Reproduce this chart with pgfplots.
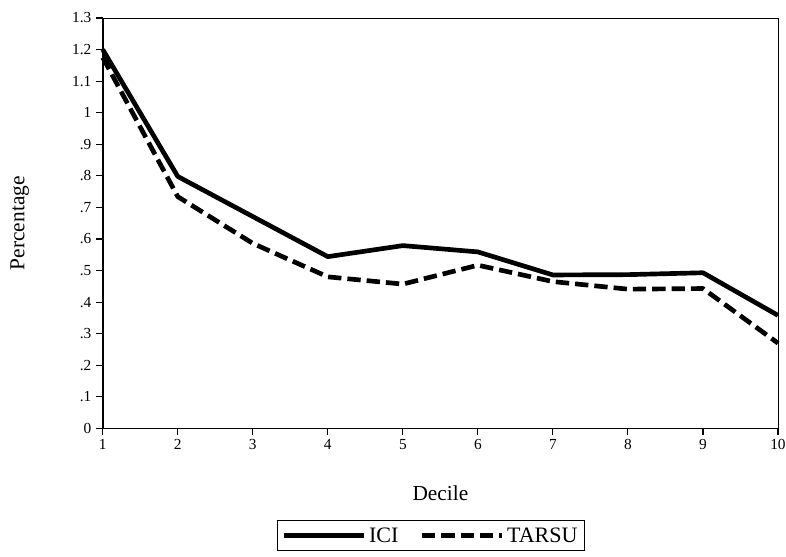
\documentclass[border=0pt]{standalone}
\usepackage{fontspec}
\setmainfont{Liberation Serif}
\usepackage{pgfplots}
\pgfplotsset{compat=1.18}
\usetikzlibrary{calc}

\begin{document}
\begin{tikzpicture}
\begin{axis}[
  name=ax,
  scale only axis,
  width=506pt, height=307.5pt,
  xmin=1, xmax=10, ymin=0, ymax=1.3,
  xtick={1,2,...,10},
  xticklabels={1,2,3,4,5,6,7,8,9,10},
  ytick={0,0.1,0.2,0.3,0.4,0.5,0.6,0.7,0.8,0.9,1,1.1,1.2,1.3},
  yticklabels={0,.1,.2,.3,.4,.5,.6,.7,.8,.9,1,1.1,1.2,1.3},
  /pgf/number format/assume math mode=true,
  tick pos=left, tick align=outside,
  major tick length=5pt,
  tick style={black, line width=0.8pt},
  axis line style={line width=0.7pt},
  ticklabel style={font=\fontsize{11.5}{13}\selectfont},
  xlabel={Decile}, ylabel={Percentage},
  label style={font=\fontsize{16}{18}\selectfont},
  xlabel style={at={(axis description cs:0.5,-0.159)}, anchor=center},
  ylabel style={at={(axis description cs:-0.123,0.5)}, anchor=center},
  legend columns=2,
  legend style={at={(axis description cs:0.486,-0.224)}, anchor=north,
    font=\fontsize{16.5}{19}\selectfont, draw=black, line width=0.7pt,
    inner sep=3pt, /tikz/every even column/.append style={column sep=14pt}},
  legend image code/.code={\draw[#1] (0pt,0pt) -- (60pt,0pt);},
  clip=false,
]
\addplot[black, line width=3.5pt, line join=round] coordinates {
  (1,1.200) (2,0.798) (3,0.671) (4,0.544) (5,0.579)
  (6,0.559) (7,0.486) (8,0.487) (9,0.493) (10,0.358)};
\addlegendentry{ICI}
\addplot[black, line width=3.5pt, line join=round, dash pattern=on 10pt off 4.5pt] coordinates {
  (1,1.175) (2,0.734) (3,0.586) (4,0.480) (5,0.457)
  (6,0.517) (7,0.465) (8,0.441) (9,0.443) (10,0.270)};
\addlegendentry{TARSU}
\draw[line width=1.3pt] (rel axis cs:0,1) -- (rel axis cs:0,0) -- (rel axis cs:1,0);
\end{axis}
\pgfresetboundingbox
\useasboundingbox ($(ax.south west)+(-77pt,-96pt)$) rectangle ($(ax.north east)+(6pt,13.5pt)$);
\end{tikzpicture}
\end{document}
